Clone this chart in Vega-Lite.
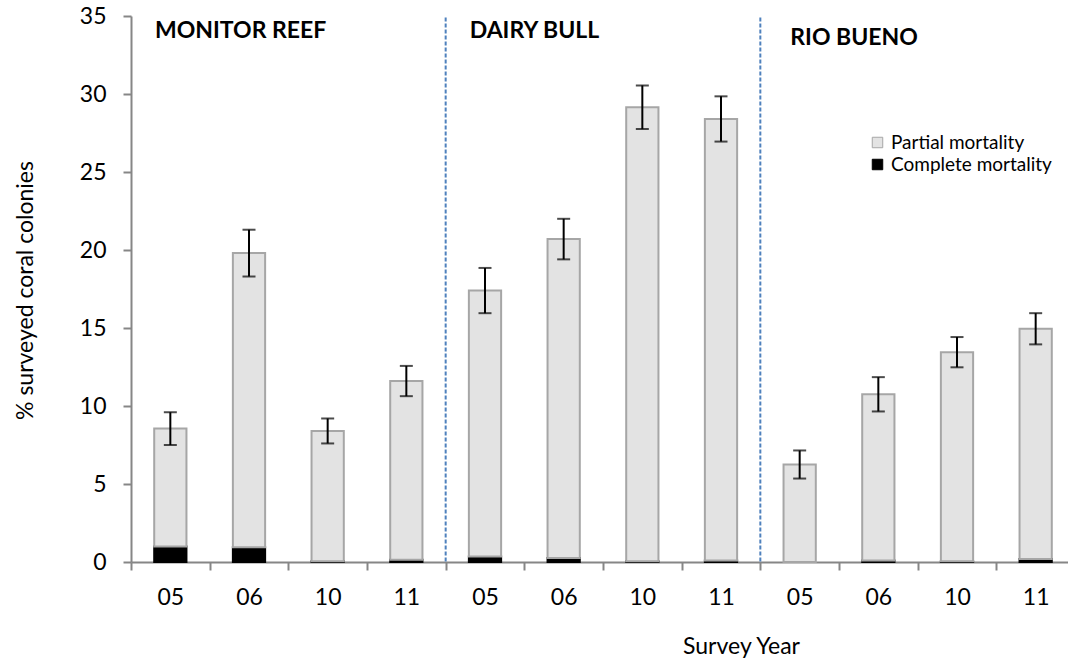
{
  "$schema": "https://vega.github.io/schema/vega-lite/v6.json",
  "autosize": {"type": "none"},
  "padding": {"left": 131, "top": 16, "right": 0, "bottom": 99},
  "width": 937,
  "height": 546,
  "background": "white",
  "config": {
    "view": {"stroke": null},
    "font": "Lato",
    "axis": {
      "grid": false,
      "labelFont": "Lato",
      "labelFontSize": 23,
      "labelColor": "#000000",
      "titleFont": "Lato",
      "titleFontSize": 23,
      "titleFontWeight": "normal",
      "titleColor": "#000000",
      "domainColor": "#868686",
      "domainWidth": 2,
      "tickColor": "#868686",
      "tickWidth": 2,
      "tickSize": 8
    }
  },
  "datasets": {
    "mortality": [
      {"key": "MR-05", "type": "Complete mortality", "pct": 1.0},
      {"key": "MR-05", "type": "Partial mortality", "pct": 7.55},
      {"key": "MR-06", "type": "Complete mortality", "pct": 0.95},
      {"key": "MR-06", "type": "Partial mortality", "pct": 18.85},
      {"key": "MR-10", "type": "Complete mortality", "pct": 0.05},
      {"key": "MR-10", "type": "Partial mortality", "pct": 8.35},
      {"key": "MR-11", "type": "Complete mortality", "pct": 0.15},
      {"key": "MR-11", "type": "Partial mortality", "pct": 11.45},
      {"key": "DB-05", "type": "Complete mortality", "pct": 0.35},
      {"key": "DB-05", "type": "Partial mortality", "pct": 17.05},
      {"key": "DB-06", "type": "Complete mortality", "pct": 0.25},
      {"key": "DB-06", "type": "Partial mortality", "pct": 20.45},
      {"key": "DB-10", "type": "Complete mortality", "pct": 0.05},
      {"key": "DB-10", "type": "Partial mortality", "pct": 29.1},
      {"key": "DB-11", "type": "Complete mortality", "pct": 0.1},
      {"key": "DB-11", "type": "Partial mortality", "pct": 28.3},
      {"key": "RB-05", "type": "Complete mortality", "pct": 0.0},
      {"key": "RB-05", "type": "Partial mortality", "pct": 6.25},
      {"key": "RB-06", "type": "Complete mortality", "pct": 0.1},
      {"key": "RB-06", "type": "Partial mortality", "pct": 10.65},
      {"key": "RB-10", "type": "Complete mortality", "pct": 0.05},
      {"key": "RB-10", "type": "Partial mortality", "pct": 13.4},
      {"key": "RB-11", "type": "Complete mortality", "pct": 0.2},
      {"key": "RB-11", "type": "Partial mortality", "pct": 14.75}
    ],
    "errors": [
      {"key": "MR-05", "total": 8.55, "se": 1.05},
      {"key": "MR-06", "total": 19.8, "se": 1.5},
      {"key": "MR-10", "total": 8.4, "se": 0.8},
      {"key": "MR-11", "total": 11.6, "se": 0.97},
      {"key": "DB-05", "total": 17.4, "se": 1.45},
      {"key": "DB-06", "total": 20.7, "se": 1.3},
      {"key": "DB-10", "total": 29.15, "se": 1.4},
      {"key": "DB-11", "total": 28.4, "se": 1.45},
      {"key": "RB-05", "total": 6.25, "se": 0.9},
      {"key": "RB-06", "total": 10.75, "se": 1.1},
      {"key": "RB-10", "total": 13.45, "se": 0.97},
      {"key": "RB-11", "total": 14.95, "se": 1.0}
    ],
    "sites": [
      {"key": "MR-05", "site": "MONITOR REEF"},
      {"key": "DB-05", "site": "DAIRY BULL"}
    ],
    "sitesLow": [
      {"key": "RB-05", "site": "RIO BUENO"}
    ],
    "breaks": [
      {"key": "MR-11"},
      {"key": "DB-11"}
    ]
  },
  "layer": [
    {
      "data": {"name": "mortality"},
      "mark": {"type": "bar", "width": {"band": 0.41}, "strokeWidth": 2},
      "encoding": {
        "x": {
          "field": "key",
          "type": "nominal",
          "title": "Survey Year",
          "scale": {
            "domain": ["MR-05", "MR-06", "MR-10", "MR-11", "DB-05", "DB-06", "DB-10", "DB-11", "RB-05", "RB-06", "RB-10", "RB-11"],
            "range": [0, 944],
            "paddingInner": 0,
            "paddingOuter": 0
          },
          "axis": {
            "labelExpr": "slice(datum.label, 3)",
            "labelAngle": 0,
            "labelPadding": 16,
            "tickBand": "extent",
            "titleX": 610,
            "titleY": 91,
            "titleAlign": "center",
            "titleBaseline": "alphabetic"
          }
        },
        "y": {
          "field": "pct",
          "type": "quantitative",
          "stack": "zero",
          "title": "% surveyed coral colonies",
          "scale": {"domain": [0, 35], "nice": false},
          "axis": {
            "values": [0, 5, 10, 15, 20, 25, 30, 35],
            "labelPadding": 17,
            "titleAngle": -90,
            "titleX": -99,
            "titleY": 274,
            "titleAlign": "center",
            "titleBaseline": "alphabetic"
          }
        },
        "fill": {
          "field": "type",
          "type": "nominal",
          "scale": {"domain": ["Partial mortality", "Complete mortality"], "range": ["#e3e3e3", "#000000"]},
          "legend": {
            "orient": "none",
            "legendX": 737,
            "legendY": 117,
            "title": null,
            "padding": 0,
            "symbolType": "square",
            "symbolSize": 110,
            "symbolStrokeColor": "#a6a6a6",
            "symbolStrokeWidth": 1,
            "labelFont": "Lato",
            "labelFontSize": 19,
            "labelColor": "#000000",
            "labelLimit": 400,
            "labelOffset": 4,
            "rowPadding": 2
          }
        },
        "stroke": {
          "field": "type",
          "type": "nominal",
          "scale": {"domain": ["Partial mortality", "Complete mortality"], "range": ["#a6a6a6", "#000000"]},
          "legend": null
        },
        "order": {"field": "type", "sort": "ascending"}
      }
    },
    {
      "data": {"name": "errors"},
      "mark": {
        "type": "errorbar",
        "ticks": {"size": 13, "thickness": 2, "color": "#000000"},
        "rule": {"strokeWidth": 2, "color": "#000000"}
      },
      "encoding": {
        "x": {"field": "key", "type": "nominal", "title": "Survey Year"},
        "y": {"field": "total", "type": "quantitative", "title": "% surveyed coral colonies"},
        "yError": {"field": "se"}
      }
    },
    {
      "data": {"name": "breaks"},
      "mark": {"type": "rule", "color": "#4f81bd", "strokeWidth": 2, "strokeDash": [4, 2]},
      "encoding": {
        "x": {"field": "key", "type": "nominal", "bandPosition": 1, "title": "Survey Year"},
        "y": {"datum": 34.9},
        "y2": {"datum": 0}
      }
    },
    {
      "data": {"name": "sites"},
      "mark": {"type": "text", "align": "left", "baseline": "alphabetic", "dx": 24, "font": "Lato", "fontSize": 23, "fontWeight": "bold", "color": "#000000"},
      "encoding": {
        "x": {"field": "key", "type": "nominal", "bandPosition": 0, "title": "Survey Year"},
        "y": {"datum": 33.57},
        "text": {"field": "site"}
      }
    },
    {
      "data": {"name": "sitesLow"},
      "mark": {"type": "text", "align": "left", "baseline": "alphabetic", "dx": 30, "font": "Lato", "fontSize": 23, "fontWeight": "bold", "color": "#000000"},
      "encoding": {
        "x": {"field": "key", "type": "nominal", "bandPosition": 0, "title": "Survey Year"},
        "y": {"datum": 33.12},
        "text": {"field": "site"}
      }
    }
  ]
}
